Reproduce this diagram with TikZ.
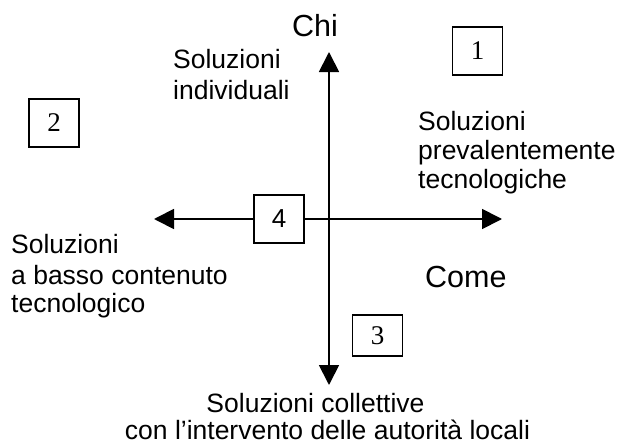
\documentclass[tikz,border=0pt]{standalone}
\usepackage{fontspec}
\setmainfont{Liberation Sans}
\newfontfamily\timesnum{Liberation Serif}
\usetikzlibrary{arrows.meta}

\tikzset{
  quadrant/.style={draw, line width=1.5pt, fill=white, minimum width=50pt,
    minimum height=48pt, inner sep=0pt, font=\timesnum\fontsize{27}{30}\selectfont},
  soltext/.style={inner sep=0pt, font=\fontsize{26.5}{29}\selectfont},
  axislabel/.style={inner sep=0pt, font=\fontsize{30.5}{36}\selectfont},
  axis/.style={line width=1.8pt,
    {Triangle[length=20pt,width=20pt]}-{Triangle[length=20pt,width=20pt]}}
}

\begin{document}
\begin{tikzpicture}[x=1pt,y=-1pt]
\useasboundingbox (0,0) rectangle (618,444);

\coordinate (chi) at (329,52);
\coordinate (coll) at (329,385);
\coordinate (basso) at (154,219);
\coordinate (prev) at (502,219);
\draw[axis] (coll) -- (chi);
\draw[axis] (basso) -- (prev);

\node[quadrant] (q1) at (477.5,51) {1};
\node[quadrant] (q2) at (54,123) {2};
\node[quadrant, minimum height=41pt] (q3) at (377.5,335.5) {3};
\node[quadrant, font=\fontsize{26}{30}\selectfont] (q4) at (279,219) {4};

\node[axislabel, anchor=base] (chilab) at (315,37) {Chi};
\node[axislabel, anchor=base west] (comelab) at (425,287) {Come};

% multi-line nodes: base is the last line
\node[soltext, anchor=base west, align=left] (individuali) at (173,99)
  {Soluzioni\\[1pt]individuali};
\node[soltext, anchor=base west, align=left] (tecno) at (418,188)
  {Soluzioni\\prevalentemente\\tecnologiche};
\node[soltext, anchor=base west, align=left] (bassolab) at (11,312)
  {Soluzioni\\[2pt]a basso contenuto\\[-1pt]tecnologico};
\node[soltext, anchor=base, align=center] (collettive) at (327.5,439)
  {Soluzioni collettive\hspace*{24pt}\\[-2pt]con l’intervento delle autorità locali};
\end{tikzpicture}
\end{document}
